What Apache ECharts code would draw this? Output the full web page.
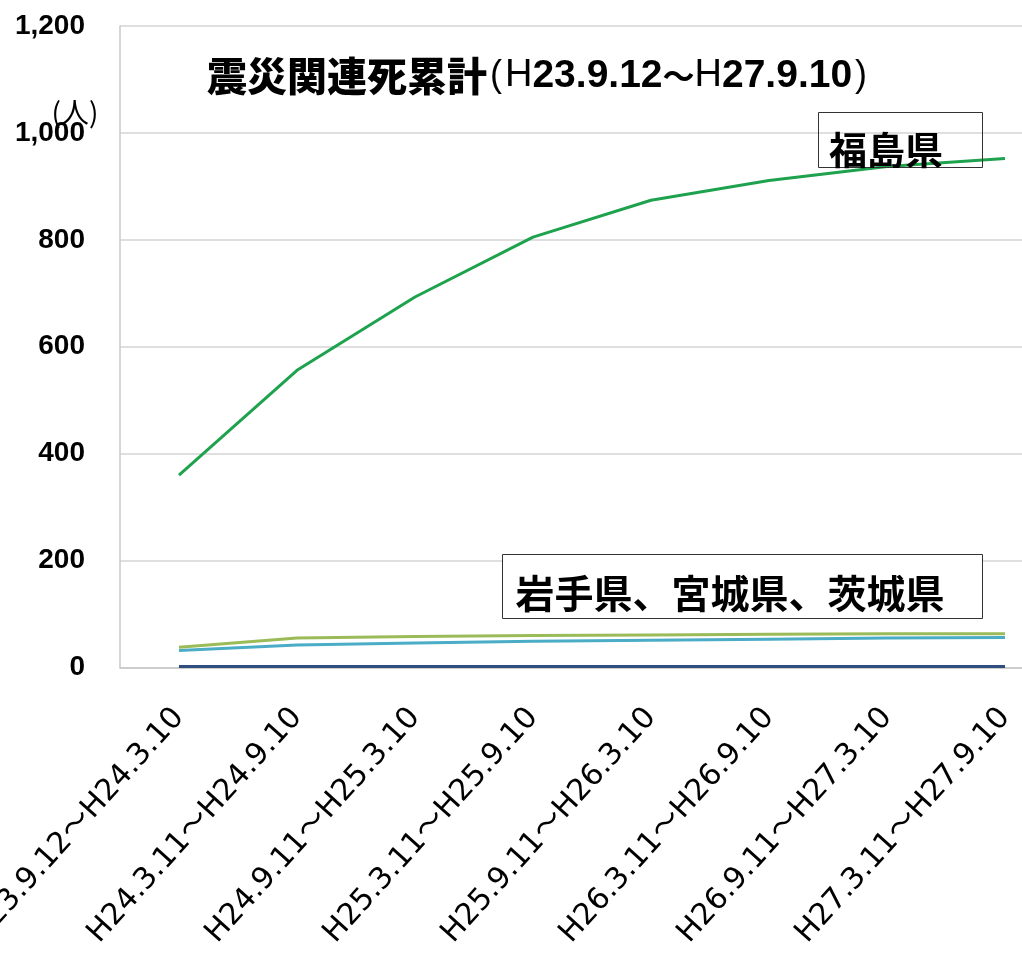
<!DOCTYPE html>
<html><head><meta charset="utf-8">
<script src="https://cdn.jsdelivr.net/npm/echarts@6/dist/echarts.min.js"></script>
<style>html,body{margin:0;padding:0;background:#fff}#c{width:1022px;height:955px}</style>
</head><body><div id="c"></div>
<script>
const categories = ['H23.9.12～H24.3.10','H24.3.11～H24.9.10','H24.9.11～H25.3.10','H25.3.11～H25.9.10','H25.9.11～H26.3.10','H26.3.11～H26.9.10','H26.9.11～H27.3.10','H27.3.11～H27.9.10'];
const fukushima = [360, 556, 693, 805, 874, 911, 937, 952];
const miyagi = [38, 55, 58, 60, 61, 62, 63, 63];
const iwate = [32, 42, 46, 49, 51, 53, 55, 56];
const ibaraki = [2, 2, 2, 2, 2, 2, 2, 2];
const yMin = 0, yMax = 1200, yStep = 200;
const titleMain = '震災関連死累計';
const titleRange = ['(', 'H', '23.9.12', '～', 'H', '27.9.10', ')'];
const unitLabel = '(人)';
const boxFukushima = '福島県';
const boxOthers = '岩手県、宮城県、茨城県';

const chart = echarts.init(document.getElementById('c'));
const cjk = '"Noto Sans CJK JP", "Noto Sans CJK SC", sans-serif';
const lat = '"Liberation Sans", Arial, sans-serif';
const lineSeries = (name, data, color, w) => ({
  name, type: 'line', data, showSymbol: false, symbol: 'none',
  lineStyle: { color, width: w }, itemStyle: { color }, z: 2
});
chart.setOption({
  animation: false,
  backgroundColor: '#fff',
  grid: { left: 120, right: -42, top: 26, bottom: 287.5, containLabel: false, outerBoundsMode: 'none' },
  xAxis: {
    type: 'category', data: categories, boundaryGap: true,
    axisTick: { show: false },
    axisLine: { lineStyle: { color: '#c8c8c8', width: 1.5 } },
    axisLabel: { rotate: 48, margin: 45, interval: 0, color: '#000',
      fontFamily: '"DejaVu Sans", ' + cjk, fontSize: 30 }
  },
  yAxis: {
    type: 'value', min: yMin, max: yMax, interval: yStep,
    axisLine: { show: true, lineStyle: { color: '#c8c8c8', width: 1.5 } },
    axisTick: { show: false },
    splitLine: { lineStyle: { color: '#d4d4d4', width: 1.5 } },
    axisLabel: { margin: 35, color: '#000', fontFamily: lat, fontWeight: 'bold', fontSize: 28,
      formatter: v => v.toLocaleString('en-US') }
  },
  series: [
    lineSeries('茨城県', ibaraki, '#2f4d7e', 3),
    lineSeries('岩手県', iwate, '#4bacc6', 3),
    lineSeries('宮城県', miyagi, '#9bbb59', 3),
    lineSeries('福島県', fukushima, '#1fa24e', 3)
  ],
  graphic: [
    { type: 'text', left: 207, top: 56, z: 10,
      style: {
        text: '{a|' + titleMain + '}{b|' + titleRange[0] + '}{h|' + titleRange[1] + '}{d|' + titleRange[2] + '}{t|' + titleRange[3] + '}{h|' + titleRange[4] + '}{d|' + titleRange[5] + '}{b|' + titleRange[6] + '}',
        rich: {
          a: { fontFamily: cjk, fontWeight: 900, fontSize: 40, fill: '#000', color: '#000' },
          b: { fontFamily: lat, fontWeight: 'normal', fontSize: 36, fill: '#000', color: '#000', padding: [0, 3, 0, 3] },
          h: { fontFamily: lat, fontWeight: 'normal', fontSize: 38, fill: '#000', color: '#000' },
          d: { fontFamily: lat, fontWeight: 'bold', fontSize: 39, fill: '#000', color: '#000' },
          t: { fontFamily: cjk, fontWeight: 'bold', fontSize: 32, fill: '#000', color: '#000' }
        }
      } },
    { type: 'text', x: 75, y: 112, z: 10,
      style: { text: unitLabel, fontFamily: cjk, fontSize: 28, fill: '#000', textAlign: 'center', textVerticalAlign: 'middle' } },
    { type: 'rect', shape: { x: 818.5, y: 112.5, width: 164, height: 55 }, z: 5,
      style: { fill: 'rgba(0,0,0,0)', stroke: '#333', lineWidth: 1 } },
    { type: 'text', x: 886, y: 150, z: 10,
      style: { text: boxFukushima, fontFamily: cjk, fontWeight: 'bold', fontSize: 38, fill: '#000', textAlign: 'center', textVerticalAlign: 'middle' } },
    { type: 'rect', shape: { x: 502.5, y: 554.5, width: 480, height: 64 }, z: 5,
      style: { fill: '#fff', stroke: '#333', lineWidth: 1 } },
    { type: 'text', x: 730, y: 593, z: 10,
      style: { text: boxOthers, fontFamily: cjk, fontWeight: 'bold', fontSize: 39, fill: '#000', textAlign: 'center', textVerticalAlign: 'middle' } }
  ]
});
</script>
</body></html>
